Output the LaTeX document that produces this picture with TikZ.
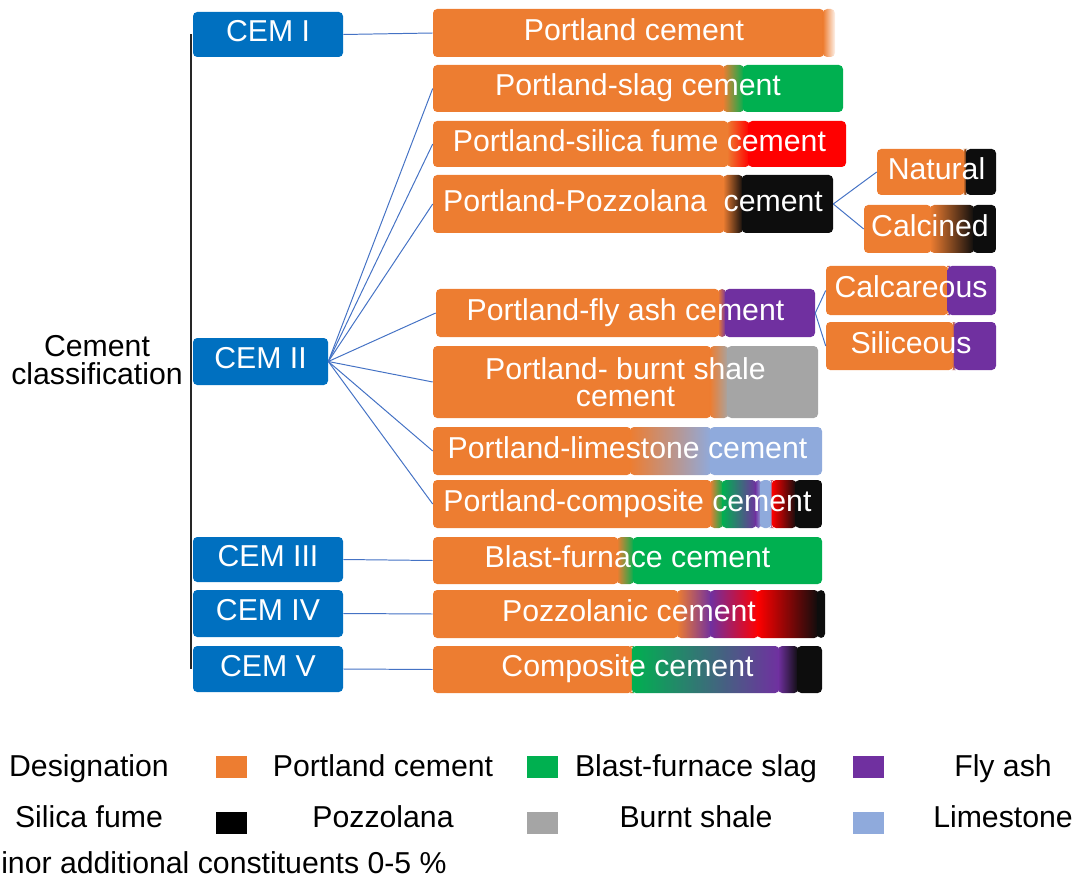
\documentclass[tikz,border=0pt]{standalone}
\usepackage{fontspec}
\setmainfont{Liberation Sans}
\usetikzlibrary{calc}
\definecolor{corange}{HTML}{ED7D31}
\definecolor{cgreen}{HTML}{00B050}
\definecolor{cred}{HTML}{FF0000}
\definecolor{cblack}{HTML}{0D0D0D}
\definecolor{cpurple}{HTML}{7030A0}
\definecolor{cgray}{HTML}{A5A5A5}
\definecolor{clblue}{HTML}{8FAADC}
\definecolor{cblue}{HTML}{0070C0}
\definecolor{clink}{HTML}{4472C4}
\newcommand\diafont{\fontsize{21.5}{19.5}\selectfont}
\tikzset{
  sz/.style 2 args={minimum width=#1*0.025cm, minimum height=#2*0.025cm},
  txt/.style={font=\diafont, inner sep=0pt, text height=16pt, text depth=5.4pt},
  cem/.style={txt, fill=cblue, text=white, rounded corners=3pt},
  bar/.style={txt, text=white, rounded corners=3pt},
  bartwo/.style={font=\diafont, inner sep=0pt, align=center, text=white, rounded corners=3pt},
  key/.style={inner sep=0pt, minimum width=31*0.025cm, minimum height=22*0.025cm},
  link/.style={draw=clink, line width=0.7pt},
  grad/.style={path picture={
    \foreach \pos/\col [remember=\pos as \lpos (initially 0),
                        remember=\col as \lcol (initially corange)] in {#1}
      \shade[left color=\lcol, right color=\col]
        ($(path picture bounding box.south west)!\lpos!(path picture bounding box.south east)$)
        rectangle
        ($(path picture bounding box.north west)!\pos!(path picture bounding box.north east)+(1pt,0)$);
  }},
}
\begin{document}
\begin{tikzpicture}[x=0.025cm, y=-0.025cm]
\useasboundingbox (0,0) rectangle (1080,880);
\node[font=\diafont, align=center, inner sep=0pt] (cls) at (97,360) {Cement\\classification};
\node[cem, sz={150}{45}] (c1) at (268,34.5) {CEM I};
\node[cem, sz={135}{47}] (c2) at (260.5,361.5) {CEM II};
\node[cem, sz={150}{45}] (c3) at (268,559.5) {CEM III};
\node[cem, sz={150}{47}] (c4) at (268,613.5) {CEM IV};
\node[cem, sz={150}{46}] (c5) at (268,669) {CEM V};
\draw[line width=1.3pt, black!85] ([xshift=-0.05cm]c1.west) -- ([xshift=-0.05cm]c5.west);
\node[bar, sz={402}{48}, grad={0.97/corange,1/white}] (pc) at (634,33) {Portland cement};
\node[bar, sz={410}{47}, grad={0.707/corange,0.756/cgreen,1/cgreen}] (ps) at (638,88.5) {Portland-slag cement};
\node[bar, sz={413}{46}, grad={0.712/corange,0.763/cred,1/cred}] (psf) at (639.5,144) {Portland-silica fume cement};
\node[bar, sz={400}{58}, grad={0.725/corange,0.772/cblack,1/cblack}] (ppz) at (633,204) {Portland-Pozzolana~~cement};
\node[bar, sz={119}{46}, grad={0.723/corange,0.748/cblack,1/cblack}] (natu) at (936.5,172) {Natural};
\node[bar, sz={132}{48}, grad={0.5/corange,0.826/cblack,1/cblack}] (calci) at (930,229) {Calcined};
\node[bar, sz={379}{48}, grad={0.744/corange,0.762/cpurple,1/cpurple}] (pfa) at (625.5,313) {Portland-fly ash cement};
\node[bar, sz={170}{49}, grad={0.712/corange,0.716/cpurple,1/cpurple}] (calca) at (911,290.5) {Calcareous};
\node[bar, sz={170}{48}, grad={0.74/corange,0.755/cpurple,1/cpurple}] (sili) at (911,346) {Siliceous};
\node[bartwo, sz={385}{72}, grad={0.719/corange,0.764/cgray,1/cgray}] (pbs) at (625.5,382) {Portland- burnt shale\\cement};
\node[bar, sz={389}{48}, grad={0.506/corange,0.712/clblue,1/clblue}] (pls) at (627.5,451) {Portland-limestone cement};
\node[bar, sz={389}{48}, grad={0.712/corange,0.743/cgreen,0.828/cpurple,0.841/clblue,0.866/clblue,0.871/cred,0.931/cblack,1/cblack}] (pcp) at (627.5,504) {Portland-composite cement};
\node[bar, sz={389}{47}, grad={0.473/corange,0.514/cgreen,1/cgreen}] (bfc) at (627.5,560.5) {Blast-furnace cement};
\node[bar, sz={392}{48}, grad={0.622/corange,0.707/cpurple,0.827/cred,0.98/cblack,1/cblack}] (pzc) at (629,614) {Pozzolanic cement};
\node[bar, sz={389}{47}, grad={0.509/corange,0.511/cgreen,0.887/cpurple,0.936/cblack,1/cblack}] (cmc) at (627.5,669.5) {Composite cement};
\draw[link] (c1.east) -- (pc.west);
\foreach \b in {ps,psf,ppz,pfa,pbs,pls,pcp}
  \draw[link] (c2.east) -- (\b.west);
\draw[link] (c3.east) -- (bfc.west);
\draw[link] (c4.east) -- (pzc.west);
\draw[link] (c5.east) -- (cmc.west);
\draw[link] (ppz.east) -- (natu.west);
\draw[link] (ppz.east) -- (calci.west);
\draw[link] (pfa.east) -- (calca.west);
\draw[link] (pfa.east) -- (sili.west);
\node[txt] (l1) at (89,769) {Designation};
\node[key, fill=corange] (k1) at (231.5,767) {};
\node[txt] (l2) at (383,769) {Portland cement};
\node[key, fill=cgreen] (k2) at (542.5,767) {};
\node[txt] (l3) at (696,769) {Blast-furnace slag};
\node[key, fill=cpurple] (k3) at (868.5,767) {};
\node[txt] (l4) at (1003,769) {Fly ash};
\node[txt] (l5) at (89,820) {Silica fume};
\node[key, fill=black] (k4) at (231.5,823) {};
\node[txt] (l6) at (383,820) {Pozzolana};
\node[key, fill=cgray] (k5) at (542.5,823) {};
\node[txt] (l7) at (696,820) {Burnt shale};
\node[key, fill=clblue] (k6) at (868.5,823) {};
\node[txt] (l8) at (1003,820) {Limestone};
\node[txt, anchor=west] (l9) at (1,866) {inor additional constituents 0-5 \%};
\end{tikzpicture}
\end{document}
